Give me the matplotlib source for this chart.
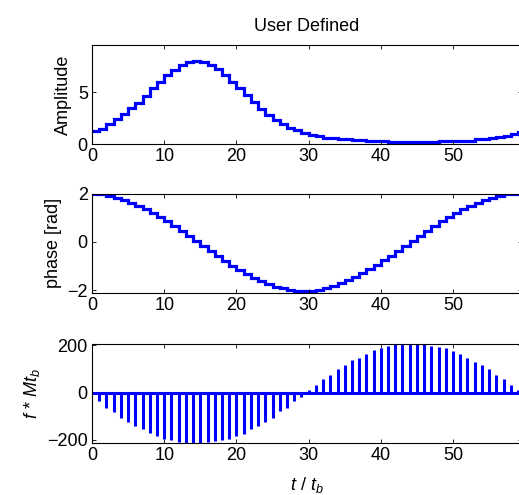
import numpy as np
import matplotlib
matplotlib.use("Agg")
import matplotlib.pyplot as plt

plt.rcParams['font.family'] = ['Liberation Sans', 'DejaVu Sans']
plt.rcParams['font.size'] = 13
plt.rcParams['mathtext.fontset'] = 'custom'
plt.rcParams['mathtext.it'] = 'Liberation Sans:italic'
plt.rcParams['mathtext.rm'] = 'Liberation Sans'

t = list(range(60))

amplitude = [1.23, 1.5, 1.94, 2.4, 2.9, 3.45, 4.0, 4.7, 5.4, 6.06,
             6.7, 7.2, 7.7, 7.94, 8.06, 7.97, 7.7, 7.26, 6.7, 6.06,
             5.4, 4.74, 4.06, 3.4, 2.84, 2.35, 1.94, 1.58, 1.32, 1.06,
             0.9, 0.74, 0.6, 0.58, 0.48, 0.45, 0.35, 0.35, 0.33, 0.32,
             0.3, 0.2, 0.2, 0.2, 0.2, 0.2, 0.2, 0.2, 0.28, 0.3,
             0.3, 0.3, 0.3, 0.45, 0.5, 0.6, 0.7, 0.8, 0.97, 1.2]

phase = [2.0, 1.97, 1.9, 1.82, 1.72, 1.6, 1.48, 1.34, 1.19, 1.02,
         0.85, 0.67, 0.46, 0.25, 0.04, -0.17, -0.38, -0.59, -0.8, -0.98,
         -1.17, -1.34, -1.5, -1.64, -1.75, -1.85, -1.93, -1.99, -2.03, -2.04,
         -2.03, -1.99, -1.92, -1.83, -1.72, -1.6, -1.45, -1.3, -1.13, -0.95,
         -0.77, -0.57, -0.36, -0.17, 0.04, 0.25, 0.46, 0.66, 0.85, 1.03,
         1.2, 1.36, 1.5, 1.62, 1.73, 1.83, 1.9, 1.97, 2.0, 2.0]

freq = [0, -37, -63, -80, -106, -123, -141, -154, -171, -182,
        -196, -201, -208, -215, -215, -215, -210, -204, -201, -196,
        -184, -173, -155, -141, -123, -106, -79, -63, -37, -18,
        13, 34, 56, 76, 99, 118, 137, 148, 165, 179,
        190, 197, 204, 210, 210, 210, 204, 199, 194, 189,
        176, 165, 148, 130, 118, 99, 76, 56, 34, 13]

xticks = [0, 10, 20, 30, 40, 50]
blue = (0, 0, 1)

fig = plt.figure(figsize=(5.19, 4.95), dpi=100)
left = 92 / 519
width = 430 / 519
xmax = 59.55

def style(ax):
    ax.set_xlim(0, xmax)
    ax.set_xticks(xticks)
    ax.tick_params(direction='in', top=True, right=True, length=3, width=0.6,
                   labelsize=13, pad=3)
    for s in ax.spines.values():
        s.set_linewidth(0.8)

ax1 = fig.add_axes([left, 0.709, width, 0.2])
edges = t + [60]
ax1.stairs(amplitude, edges, color=blue, linewidth=2.3, baseline=None)
style(ax1)
ax1.set_ylim(0, 9.6)
ax1.set_yticks([0, 5])
ax1.set_ylabel('Amplitude', labelpad=4)
ax1.set_title('User Defined', fontsize=13, pad=10)

ax2 = fig.add_axes([left, 0.409, width, 0.2])
ax2.stairs(phase, edges, color=blue, linewidth=2.3, baseline=None)
style(ax2)
ax2.set_ylim(-2.1, 2.0)
ax2.set_yticks([-2, 0, 2])
ax2.set_ylabel('phase [rad]', labelpad=4)

ax3 = fig.add_axes([left, 0.105, width, 0.2])
ax3.vlines(t, 0, freq, color=blue, linewidth=2.2)
ax3.axhline(0, color=blue, linewidth=2.2)
style(ax3)
ax3.set_ylim(-213, 206)
ax3.set_yticks([-200, 0, 200])
ax3.set_ylabel(r'$f$ * $Mt_b$', labelpad=4)
ax3.set_xlabel(r'$t$ / $t_b$', labelpad=8)

fig.savefig('out.png', dpi=100)
